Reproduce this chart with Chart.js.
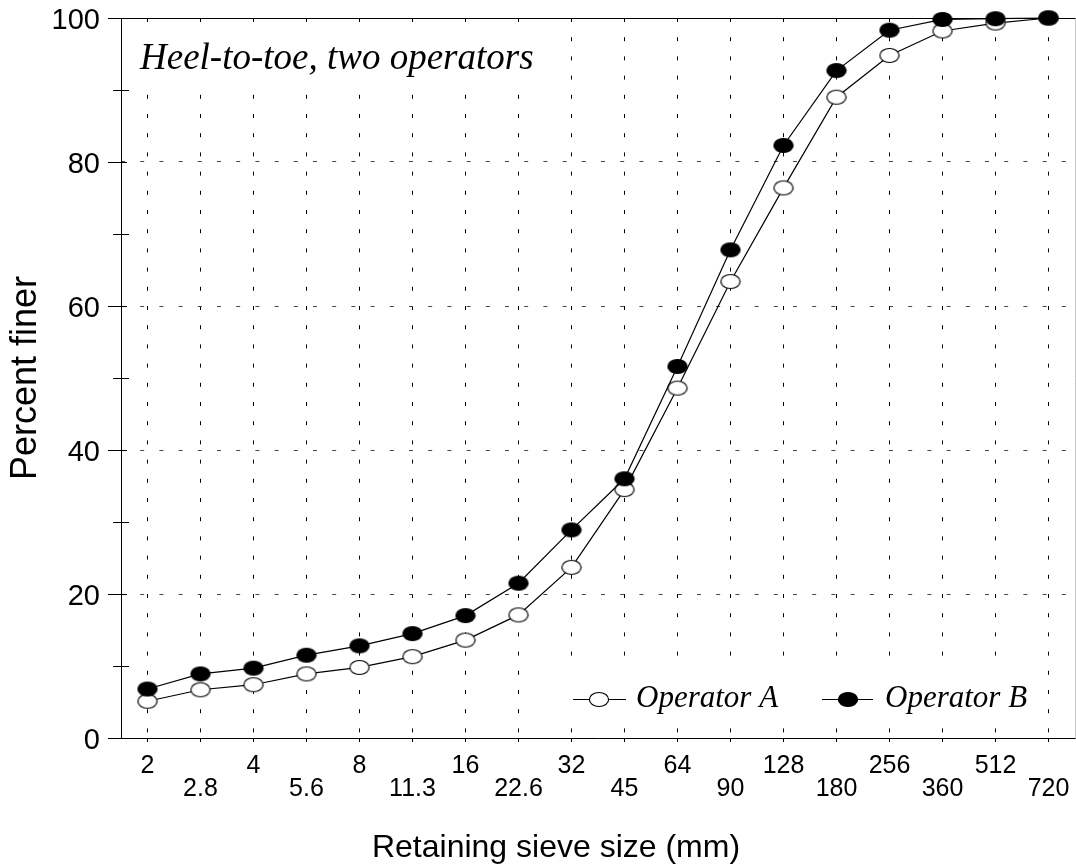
<!DOCTYPE html>
<html><head><meta charset="utf-8">
<script src="https://cdn.jsdelivr.net/npm/chart.js@4"></script>
<style>html,body{margin:0;padding:0;background:#fff;}canvas{display:block;}</style>
</head><body>
<canvas id="c" width="1076" height="868"></canvas>
<script>
const sieveSizes = ['2','2.8','4','5.6','8','11.3','16','22.6','32','45','64','90','128','180','256','360','512','720'];
const operatorA = [5.1,6.7,7.4,8.9,9.8,11.3,13.6,17.1,23.7,34.5,48.6,63.4,76.4,89.0,94.8,98.2,99.3,100];
const operatorB = [6.8,8.9,9.7,11.5,12.8,14.5,17.0,21.5,28.9,36.0,51.6,67.8,82.3,92.7,98.3,99.8,99.9,100];
const seriesNames = ['Operator A','Operator B'];
const annotationText = 'Heel-to-toe, two operators';
const xTitle = 'Retaining sieve size (mm)';
const yTitle = 'Percent finer';

const SANS = "'Liberation Sans', Arial, sans-serif";
const SERIF = "'Liberation Serif', 'Times New Roman', serif";
const DASH = [4, 15.2];

function ellipseMarker(filled){
  const c = document.createElement('canvas');
  c.width = 22; c.height = 17;
  const g = c.getContext('2d');
  g.beginPath();
  g.ellipse(11, 8.5, 9.6, 7.0, 0, 0, Math.PI*2);
  g.fillStyle = filled ? '#000' : '#fff';
  g.fill();
  g.lineWidth = 1.2; g.strokeStyle = '#000';
  g.stroke();
  return c;
}
const openMarker = ellipseMarker(false);
const filledMarker = ellipseMarker(true);

function seg(ctx,x1,y1,x2,y2){ctx.beginPath();ctx.moveTo(x1,y1);ctx.lineTo(x2,y2);ctx.stroke();}
function zeroPad(s){ s.paddingTop = 0; s.paddingBottom = 0; s.paddingLeft = 0; s.paddingRight = 0; }

const decor = {
  id: 'decor',
  beforeDatasetsDraw(chart){
    const ctx = chart.ctx;
    ctx.save();
    ctx.fillStyle = '#fff';
    ctx.fillRect(126, 24, 420, 68);   // annotation box
    ctx.fillRect(562, 660, 476, 62);  // legend box
    ctx.restore();
  },
  afterDraw(chart){
    const {ctx, chartArea: a, scales: {y}} = chart;
    ctx.save();
    ctx.strokeStyle = '#000'; ctx.lineWidth = 1; ctx.setLineDash([]);
    const yb = Math.round(y.getPixelForValue(0)) + 0.5;
    const yt = Math.round(y.getPixelForValue(100)) + 0.5;
    const xl = Math.round(a.left) + 0.5;
    seg(ctx, xl, yt, xl, yb);
    seg(ctx, xl, yb, 1076, yb);
    seg(ctx, 108, yt, 1076, yt);
    ctx.strokeStyle = '#c8c8c8';
    seg(ctx, Math.round(a.right) + 0.5, yt, Math.round(a.right) + 0.5, yb);
    ctx.strokeStyle = '#000';
    for (let v = 0; v <= 100; v += 10){
      const py = Math.round(y.getPixelForValue(v)) + 0.5;
      if (v % 20 === 0) seg(ctx, 108, py, 127, py);
      else seg(ctx, 113, py, 129, py);
    }
    ctx.fillStyle = '#000';
    ctx.font = 'italic 37px ' + SERIF;
    ctx.textAlign = 'left'; ctx.textBaseline = 'alphabetic';
    ctx.fillText(annotationText, 140, 69);
    const items = [
      {i: 0, x0: 573, x1: 626, cx: 599, tx: 636},
      {i: 1, x0: 822, x1: 873, cx: 848, tx: 885}
    ];
    const ly = 699;
    ctx.font = 'italic 31px ' + SERIF;
    items.forEach(it => {
      const ds = chart.data.datasets[it.i];
      ctx.strokeStyle = '#000'; ctx.lineWidth = 1.2;
      seg(ctx, it.x0, ly + 0.5, it.x1, ly + 0.5);
      const m = ds.pointStyle;
      ctx.drawImage(m, it.cx - m.width/2, ly + 0.5 - m.height/2);
      ctx.fillText(ds.label, it.tx, 707);
    });
    ctx.font = '32px ' + SANS;
    ctx.textAlign = 'center';
    ctx.fillText(xTitle, 556, 857);
    ctx.restore();
  }
};

new Chart(document.getElementById('c'), {
  type: 'line',
  data: {
    labels: sieveSizes,
    datasets: [
      {label: seriesNames[0], data: operatorA, borderColor: '#000', borderWidth: 1.2,
       pointStyle: openMarker, pointRadius: 10, pointHoverRadius: 10, tension: 0, clip: false, order: 1, fill: false},
      {label: seriesNames[1], data: operatorB, borderColor: '#000', borderWidth: 1.2,
       pointStyle: filledMarker, pointRadius: 10, pointHoverRadius: 10, tension: 0, clip: false, order: 0, fill: false}
    ]
  },
  options: {
    responsive: false,
    devicePixelRatio: 1,
    animation: false,
    events: [],
    layout: {autoPadding: false, padding: {top: 18, right: 1, left: 0, bottom: 0}},
    plugins: {legend: {display: false}, tooltip: {enabled: false}, title: {display: false}},
    scales: {
      x: {
        type: 'category',
        offset: true,
        grid: {display: true, offset: false, color: '#000', lineWidth: 1, drawTicks: true, tickLength: 10,
               tickColor: '#000', tickWidth: 1, tickBorderDash: DASH},
        border: {display: false, dash: DASH},
        ticks: {
          autoSkip: false, maxRotation: 0, minRotation: 0, padding: 7, color: '#000',
          font: {family: SANS, size: 25, lineHeight: 0.92},
          callback: (v, i) => i % 2 === 0 ? sieveSizes[i] : ['', sieveSizes[i]]
        },
        title: {display: false, text: xTitle},
        afterFit: s => { s.height = 130; zeroPad(s); }
      },
      y: {
        min: 0, max: 100,
        grid: {color: c => (c.tick && (c.tick.value === 0 || c.tick.value === 100)) ? 'rgba(0,0,0,0)' : '#444',
               lineWidth: 1, drawTicks: false},
        border: {display: false, dash: DASH},
        ticks: {stepSize: 20, padding: 21, labelOffset: 3, color: '#000', font: {family: SANS, size: 29}},
        title: {display: true, text: yTitle, color: '#000', font: {family: SANS, size: 36}, padding: {top: 4, bottom: 0}},
        afterFit: s => { s.width = 121; zeroPad(s); }
      }
    }
  },
  plugins: [decor]
});
</script>
</body></html>
